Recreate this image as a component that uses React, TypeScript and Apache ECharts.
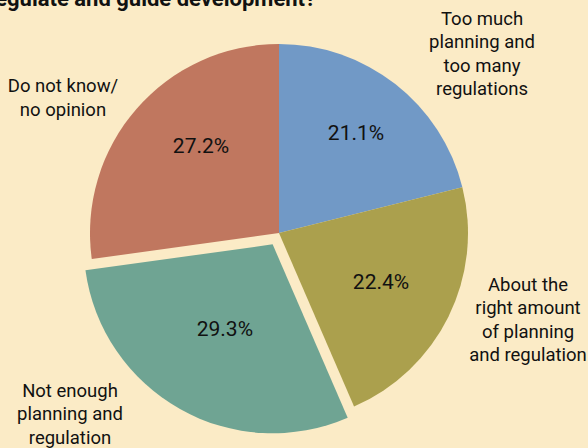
import React, { useEffect, useRef } from "react";
import * as echarts from "echarts";

const categories = [
  "Too much\nplanning and\ntoo many\nregulations",
  "About the\nright amount\nof planning\nand regulation",
  "Not enough\nplanning and\nregulation",
  "Do not know/\nno opinion",
];
const values = [21.1, 22.4, 29.3, 27.2];
const colors = ["#7199C6", "#ABA04D", "#6FA493", "#C0775F"];
const explodedIndex = 2;
const titleText = "regulate and guide development?";

// label layout positions (pixels)
const nameLabelPos = [
  [482, 54],
  [528, 320],
  [70, 414],
  [63, 98],
];
const pctLabelPos = [
  [356, 133],
  [381, 282],
  [225, 333],
  [201, 146],
];

export default function App() {
  const ref = useRef<HTMLDivElement>(null);
  useEffect(() => {
    if (!ref.current) return;
    const chart = echarts.init(ref.current, null, { renderer: "svg" });
    const font = "Roboto, 'Liberation Sans', sans-serif";
    const common = {
      type: "pie",
      center: [279, 233],
      radius: [0, 189],
      startAngle: 90,
      clockwise: true,
      avoidLabelOverlap: false,
      emphasis: { disabled: true },
      silent: true,
    };
    chart.setOption({
      animation: false,
      backgroundColor: "#FBEBC6",
      graphic: [
        {
          type: "text",
          x: 316,
          y: 9,
          style: {
            text: titleText,
            fontFamily: font,
            fontWeight: "bold",
            fontSize: 22,
            fill: "#111",
            textAlign: "right",
            textVerticalAlign: "bottom",
          },
        },
      ],
      series: [
        {
          ...common,
          selectedMode: "single",
          selectedOffset: 13,
          data: values.map((v, i) => ({
            name: categories[i],
            value: v,
            selected: i === explodedIndex,
            itemStyle: { color: colors[i] },
          })),
          label: {
            show: true,
            position: "inside",
            formatter: (p: any) => p.value.toFixed(1) + "%",
            fontFamily: font,
            fontSize: 21,
            color: "#111",
          },
          labelLine: { show: false },
          labelLayout: (p: any) => ({
            x: pctLabelPos[p.dataIndex][0],
            y: pctLabelPos[p.dataIndex][1],
            align: "center",
            verticalAlign: "middle",
          }),
        },
        {
          ...common,
          selectedMode: false,
          data: values.map((v, i) => ({
            name: categories[i],
            value: v,
            itemStyle: { color: "rgba(0,0,0,0)" },
          })),
          label: {
            show: true,
            position: "outside",
            formatter: "{b}",
            fontFamily: font,
            fontSize: 18.5,
            lineHeight: 23.5,
            color: "#111",
            align: "center",
          },
          labelLine: { show: false },
          labelLayout: (p: any) => ({
            x: nameLabelPos[p.dataIndex][0],
            y: nameLabelPos[p.dataIndex][1],
            align: "center",
            verticalAlign: "middle",
          }),
        },
      ],
    });
    return () => chart.dispose();
  }, []);
  return (
    <div
      ref={ref}
      style={{ position: "fixed", left: 0, top: 0, width: 588, height: 448 }}
    />
  );
}
